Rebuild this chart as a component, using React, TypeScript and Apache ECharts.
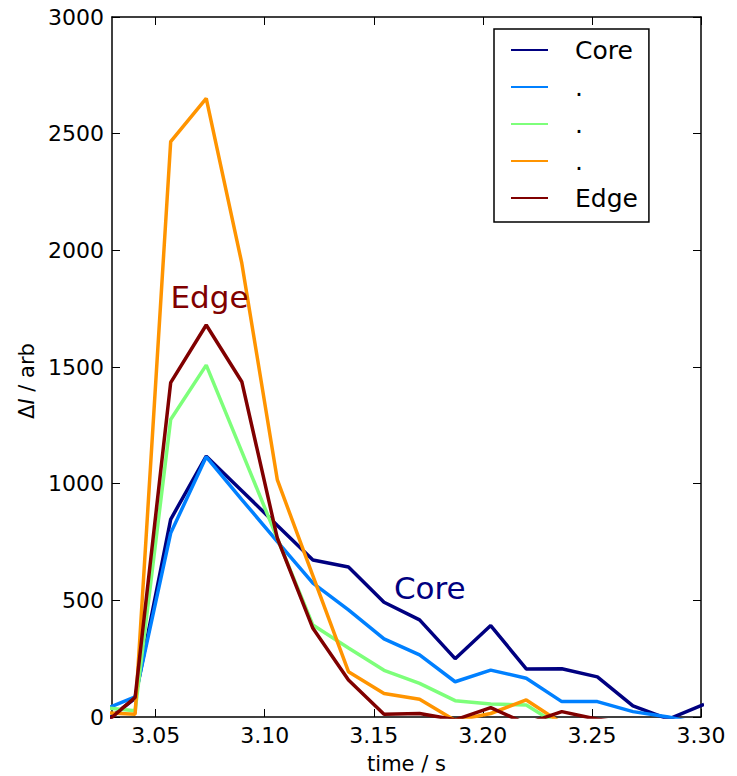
import React, { useEffect, useRef } from "react";
import * as echarts from "echarts";

const times = [3.0243, 3.0406, 3.0569, 3.0732, 3.0895, 3.1058, 3.1221, 3.1384, 3.1547, 3.171, 3.1873, 3.2036, 3.2199, 3.2362, 3.2525, 3.2688, 3.2851, 3.3014];
const coreVals = [-38, 80, 847, 1118, 970, 821, 673, 643, 492, 416, 250, 392, 206, 207, 172, 48, -9, 54];
const ch2Vals = [24, 86, 788, 1115, 932, 752, 574, 459, 335, 266, 151, 201, 166, 66, 66, 23, 0, -35];
const ch3Vals = [42, 27, 1275, 1508, 1137, 765, 394, 296, 200, 144, 70, 56, 51, -43, -60, -60, -50, -60];
const ch4Vals = [20, 12, 2466, 2651, 1945, 1016, 605, 194, 101, 76, -15, 15, 73, -27, -40, -40, -40, -40];
const edgeVals = [-47, 84, 1433, 1680, 1437, 766, 380, 159, 12, 15, -12, 40, -29, 23, -10, -30, -30, -30];

const seriesValues = [coreVals, ch2Vals, ch3Vals, ch4Vals, edgeVals];
const legendLabels = ["Core", ".", ".", ".", "Edge"];
const colors = ["#000080", "#0080ff", "#7dff7a", "#ff9400", "#800000"];
const xTicks = [3.05, 3.1, 3.15, 3.2, 3.25, 3.3];
const yTicks = [0, 500, 1000, 1500, 2000, 2500, 3000];
const edgeNote = { t: 3.0566, v: 1800, text: "Edge" };
const coreNote = { t: 3.159, v: 555, text: "Core" };

const FONT = "DejaVu Sans";

export default function App() {
  const ref = useRef<HTMLDivElement>(null);
  useEffect(() => {
    if (!ref.current) return;
    const chart = echarts.init(ref.current, null, { renderer: "svg" });
    const names = seriesValues.map((_, i) => "s" + i);
    const axisLineStyle = { color: "#000", width: 1.5 };
    const mkX = (pos: "bottom" | "top", labels: boolean) => ({
      type: "value",
      position: pos,
      min: 3.03,
      max: 3.3,
      axisLine: { show: true, onZero: false, lineStyle: axisLineStyle },
      axisTick: { show: true, inside: true, length: 8, customValues: xTicks, lineStyle: { color: "#000", width: 1 } },
      axisLabel: {
        show: labels,
        customValues: xTicks,
        formatter: (v: number) => v.toFixed(2),
        color: "#000",
        fontSize: 22,
        fontFamily: FONT,
        margin: 7,
      },
      splitLine: { show: false },
      name: labels ? "time / s" : "",
      nameLocation: "middle",
      nameGap: 36,
      nameTextStyle: { color: "#000", fontSize: 21, fontFamily: FONT },
    });
    const mkY = (pos: "left" | "right", labels: boolean) => ({
      type: "value",
      position: pos,
      min: 0,
      max: 3000,
      interval: 500,
      axisLine: { show: true, onZero: false, lineStyle: axisLineStyle },
      axisTick: { show: true, inside: true, length: 8, lineStyle: { color: "#000", width: 1 } },
      axisLabel: {
        show: labels,
        color: "#000",
        fontSize: 22,
        fontFamily: FONT,
        margin: 8,
        customValues: yTicks,
        formatter: (v: number) => String(v),
      },
      splitLine: { show: false },
      name: labels ? "{a|Δ}{i|I}{a| / arb}{s|}" : "",
      nameLocation: "middle",
      nameGap: 60,
      nameTextStyle: {
        color: "#000",
        fontSize: 21,
        fontFamily: FONT,
        rich: {
          a: { fontSize: 21, fontFamily: FONT, color: "#000" },
          i: { fontSize: 21, fontFamily: FONT, fontStyle: "italic", color: "#000" },
          s: { fontSize: 21, fontFamily: FONT, width: 28 },
        },
      },
    });
    const note = (n: { t: number; v: number; text: string }, color: string) => ({
      symbol: "circle",
      symbolSize: 1,
      itemStyle: { color: "rgba(0,0,0,0)" },
      label: {
        show: true,
        position: "right",
        distance: 0,
        formatter: n.text,
        color,
        fontSize: 31,
        fontFamily: FONT,
      },
      data: [{ coord: [n.t, n.v] }],
    });
    chart.setOption({
      animation: false,
      backgroundColor: "#fff",
      grid: { left: 112, right: 36, top: 17, bottom: 59, containLabel: false, outerBoundsMode: "none" },
      xAxis: [mkX("bottom", true), mkX("top", false)],
      yAxis: [mkY("left", true), mkY("right", false)],
      legend: {
        orient: "vertical",
        left: 494,
        top: 29,
        data: names,
        formatter: (name: string) => legendLabels[names.indexOf(name)],
        icon: "rect",
        itemWidth: 37,
        itemHeight: 2,
        itemGap: 11,
        padding: [8, 11, 11, 17],
        borderColor: "#000",
        borderWidth: 1.5,
        backgroundColor: "#fff",
        selectedMode: false,
        textStyle: { color: "#000", fontSize: 25, fontFamily: FONT, lineHeight: 26, padding: [0, 0, 0, 22] },
      },
      series: seriesValues.map((vals, i) => ({
        name: names[i],
        type: "line",
        data: times.map((t, j) => [t, vals[j]]),
        showSymbol: false,
        symbol: "none",
        clip: true,
        lineStyle: { color: colors[i], width: 3.5 },
        itemStyle: { color: colors[i] },
        markPoint: i === 0 ? note(coreNote, colors[0]) : i === 4 ? note(edgeNote, colors[4]) : undefined,
      })),
    });
    return () => chart.dispose();
  }, []);
  return <div ref={ref} style={{ width: 737, height: 776, position: "absolute", left: 0, top: 0 }} />;
}
